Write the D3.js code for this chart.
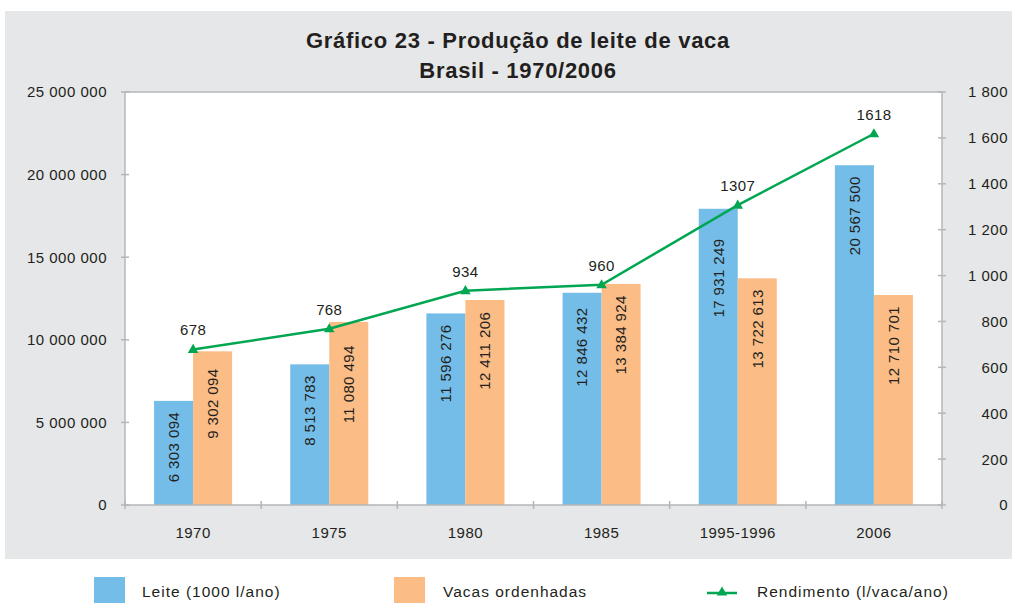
<!DOCTYPE html>
<html>
<head>
<meta charset="utf-8">
<script src="https://cdn.jsdelivr.net/npm/d3@7"></script>
<style>
  html, body { margin: 0; padding: 0; background: #ffffff; }
  svg { display: block; }
  text { font-family: "Liberation Sans", Arial, Helvetica, sans-serif; fill: #231f20; }
</style>
</head>
<body>
<svg id="chart" width="1014" height="603"></svg>
<script>
// ---- data ----
const categories = ["1970", "1975", "1980", "1985", "1995-1996", "2006"];
const leite = [6303094, 8513783, 11596276, 12846432, 17931249, 20567500];
const vacas = [9302094, 11080494, 12411206, 13384924, 13722613, 12710701];
const rendimento = [678, 768, 934, 960, 1307, 1618];
const leftTicks = [0, 5000000, 10000000, 15000000, 20000000, 25000000];
const rightTicks = [0, 200, 400, 600, 800, 1000, 1200, 1400, 1600, 1800];
const titleLines = ["Gráfico 23 - Produção de leite de vaca", "Brasil - 1970/2006"];
const legendLabels = ["Leite (1000 l/ano)", "Vacas ordenhadas", "Rendimento (l/vaca/ano)"];

// ---- style ----
const C_BLUE = "#74bde8", C_ORANGE = "#fbbc85", C_GREEN = "#00a651";
const C_BG = "#e6e7e8", C_AXIS = "#b5b6b8";

const svg = d3.select("#chart");
const fmt = v => d3.format(",")(v).replace(/,/g, " ");

const L = 125, R = 942, T = 92, B = 505;

svg.append("rect").attr("x", 5).attr("y", 11).attr("width", 1007).attr("height", 548).attr("fill", C_BG);
svg.append("rect").attr("x", L).attr("y", T).attr("width", R - L).attr("height", B - T).attr("fill", "#fff");

// title
svg.selectAll("text.title").data(titleLines).join("text")
  .attr("class", "title")
  .attr("x", 518).attr("y", (d, i) => 48 + i * 30)
  .attr("text-anchor", "middle")
  .style("font-size", "22px").style("font-weight", "bold").style("letter-spacing", "0.7px")
  .text(d => d);

// scales
const pad = 0.427;
const x0 = d3.scaleBand().domain(categories).range([L, R]).paddingInner(pad).paddingOuter(pad / 2);
const x1 = d3.scaleBand().domain(["leite", "vacas"]).range([0, x0.bandwidth()]);
const yL = d3.scaleLinear().domain([0, 25000000]).range([B, T]);
const yR = d3.scaleLinear().domain([0, 1800]).range([B, T]);

const rows = categories.map((c, i) => ({ c, leite: leite[i], vacas: vacas[i], rend: rendimento[i] }));

// bars
const g = svg.append("g");
rows.forEach(r => {
  [["leite", C_BLUE], ["vacas", C_ORANGE]].forEach(([k, col]) => {
    g.append("rect")
      .attr("x", x0(r.c) + x1(k)).attr("width", x1.bandwidth())
      .attr("y", yL(r[k])).attr("height", B - yL(r[k]))
      .attr("fill", col);
  });
});

// axes lines / border
const axisG = svg.append("g").attr("stroke", C_AXIS).attr("stroke-width", 1.5).attr("fill", "none");
axisG.append("line").attr("x1", L).attr("x2", L).attr("y1", T).attr("y2", B);
axisG.append("line").attr("x1", R).attr("x2", R).attr("y1", T).attr("y2", B);
axisG.append("line").attr("x1", L).attr("x2", R).attr("y1", T).attr("y2", T);
axisG.append("line").attr("x1", L).attr("x2", R).attr("y1", B).attr("y2", B);

// ticks
leftTicks.forEach(t => axisG.append("line").attr("x1", L - 4).attr("x2", L + 4).attr("y1", yL(t)).attr("y2", yL(t)));
rightTicks.forEach(t => axisG.append("line").attr("x1", R - 4).attr("x2", R + 4).attr("y1", yR(t)).attr("y2", yR(t)));
const step = x0.step();
d3.range(categories.length + 1).forEach(i => {
  const xx = L + i * step;
  axisG.append("line").attr("x1", xx).attr("x2", xx).attr("y1", B - 4).attr("y2", B + 4);
});

// tick labels
const lab = svg.append("g").style("font-size", "15px").style("letter-spacing", "0.5px");
lab.selectAll("text.yl").data(leftTicks).join("text")
  .attr("x", 107).attr("y", d => yL(d)).attr("dy", "0.36em").attr("text-anchor", "end")
  .text(d => fmt(d));
lab.selectAll("text.yr").data(rightTicks).join("text")
  .attr("x", 1008).attr("y", d => yR(d)).attr("dy", "0.36em").attr("text-anchor", "end")
  .text(d => fmt(d));
lab.selectAll("text.xc").data(categories).join("text")
  .attr("x", d => x0(d) + x0.bandwidth() / 2).attr("y", 538).attr("text-anchor", "middle")
  .text(d => d);

// line
const px = c => x0(c) + x0.bandwidth() / 2;
const lineGen = d3.line().x(d => px(d.c)).y(d => yR(d.rend));
svg.append("path").datum(rows).attr("d", lineGen)
  .attr("fill", "none").attr("stroke", C_GREEN).attr("stroke-width", 2.5);

const tri = d3.symbol().type(d3.symbolTriangle).size(48);
svg.selectAll("path.mk").data(rows).join("path")
  .attr("transform", d => `translate(${px(d.c)},${yR(d.rend) + 0.5})`)
  .attr("d", tri).attr("fill", C_GREEN);

// line value labels
svg.selectAll("text.pl").data(rows).join("text")
  .attr("x", d => px(d.c)).attr("y", d => yR(d.rend) - 14)
  .attr("text-anchor", "middle")
  .style("font-size", "15px").style("letter-spacing", "0.4px")
  .text(d => d.rend);

// bar labels (rotated), kept clear of the line
const xs = rows.map(r => px(r.c));
const ysLine = rows.map(r => yR(r.rend));
function lineYAt(x) {
  if (x < xs[0] || x > xs[xs.length - 1]) return -Infinity;
  for (let i = 0; i < xs.length - 1; i++) {
    if (x >= xs[i] && x <= xs[i + 1]) {
      const t = (x - xs[i]) / (xs[i + 1] - xs[i]);
      return ysLine[i] + t * (ysLine[i + 1] - ysLine[i]);
    }
  }
  return -Infinity;
}
rows.forEach(r => {
  ["leite", "vacas"].forEach(k => {
    const cx = x0(r.c) + x1(k) + x1.bandwidth() / 2;
    const top = Math.max(yL(r[k]) + 11, lineYAt(cx) + 22);
    svg.append("text")
      .attr("transform", `translate(${cx},${top}) rotate(-90)`)
      .attr("text-anchor", "end").attr("dy", "0.36em")
      .style("font-size", "15px").style("letter-spacing", "0.4px")
      .text(fmt(r[k]));
  });
});

// legend
const lg = svg.append("g");
lg.append("rect").attr("x", 94).attr("y", 577).attr("width", 31).attr("height", 26).attr("fill", C_BLUE);
lg.append("rect").attr("x", 394).attr("y", 577).attr("width", 31).attr("height", 26).attr("fill", C_ORANGE);
lg.append("line").attr("x1", 707).attr("x2", 737).attr("y1", 593).attr("y2", 593).attr("stroke", C_GREEN).attr("stroke-width", 2.5);
lg.append("path").attr("transform", "translate(722,592.5)").attr("d", tri).attr("fill", C_GREEN);
lg.selectAll("text").data(legendLabels).join("text")
  .attr("x", (d, i) => [142, 443, 757][i]).attr("y", 597)
  .style("font-size", "15.5px").style("letter-spacing", "1px")
  .text(d => d);
</script>
</body>
</html>
